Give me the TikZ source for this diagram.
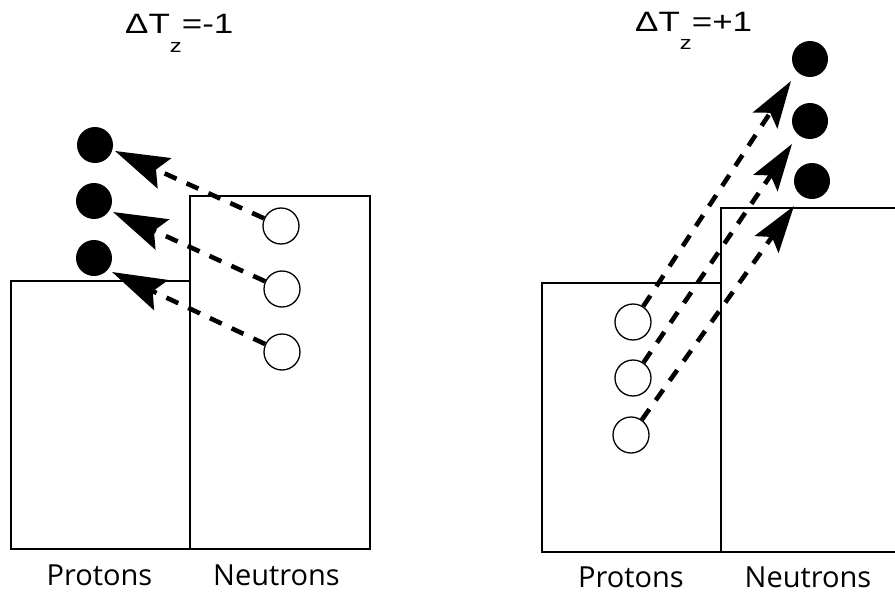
\documentclass[tikz,border=0pt]{standalone}
\usepackage{fontspec}
\setmainfont{Liberation Sans}
\newfontfamily\labelfont{Open Sans}
\usetikzlibrary{arrows.meta}
\newcommand{\dtz}[1]{\scalebox{1.25}[1]{ΔT\raisebox{-18pt}{\fontsize{19}{19}\selectfont z}=#1}}
\begin{document}
\begin{tikzpicture}[x=1pt,y=-1pt,
  box/.style={draw=black,line width=1.4pt},
  hole/.style={circle,draw=black,line width=1.3pt,fill=white,minimum size=36pt,inner sep=0pt},
  part/.style={circle,fill=black,minimum size=36pt,inner sep=0pt},
  jumpbase/.style={line width=4.6pt,dash pattern=on 13pt off 11pt},
  jumpl/.style={jumpbase,-{Stealth[length=54pt,width=33pt,inset=9pt]}},
  jumpr/.style={jumpbase,-{Stealth[length=47pt,width=29pt,inset=9pt]}},
  title/.style={anchor=base west,inner sep=0pt,font=\fontsize{28}{30}\selectfont},
  lab/.style={anchor=base,inner sep=0pt,font=\labelfont\fontsize{29}{31}\selectfont}]
\useasboundingbox (0,0) rectangle (895,597);
% ---- left: Delta Tz = -1
\draw[box] (11,281) rectangle (190,549);
\draw[box] (190,196) rectangle (370,549);
\node[title] (tl) at (125,34) {\dtz{-1}};
\node[lab] (pl) at (99.5,585) {Protons};
\node[lab] (nl) at (276.5,585) {Neutrons};
\node[part] (lf1) at (95,145) {};
\node[part] (lf2) at (94,201) {};
\node[part] (lf3) at (94,258) {};
\node[hole] (lo1) at (281,226) {};
\node[hole] (lo2) at (282,289) {};
\node[hole] (lo3) at (282,352) {};
\coordinate (lt1) at (115,151);
\coordinate (lt2) at (113,212);
\coordinate (lt3) at (112,272);
\draw[jumpl] (lo1) -- (lt1);
\draw[jumpl] (lo2) -- (lt2);
\draw[jumpl] (lo3) -- (lt3);
% ---- right: Delta Tz = +1
\draw[box] (542,283) rectangle (721,552);
\draw[box] (896,208) -- (721,208) -- (721,552) -- (896,552);
\node[title] (tr) at (635,31) {\dtz{+1}};
\node[lab] (pr) at (631,587) {Protons};
\node[lab] (nr) at (808,587) {Neutrons};
\node[part] (rf1) at (810,59) {};
\node[part] (rf2) at (810,121) {};
\node[part] (rf3) at (812,181) {};
\node[hole] (ro1) at (633,322) {};
\node[hole] (ro2) at (633,378) {};
\node[hole] (ro3) at (631,435) {};
\coordinate (rt1) at (791,81);
\coordinate (rt2) at (792,144);
\coordinate (rt3) at (794,206);
\draw[jumpr] (ro1) -- (rt1);
\draw[jumpr] (ro2) -- (rt2);
\draw[jumpr] (ro3) -- (rt3);
\end{tikzpicture}
\end{document}
